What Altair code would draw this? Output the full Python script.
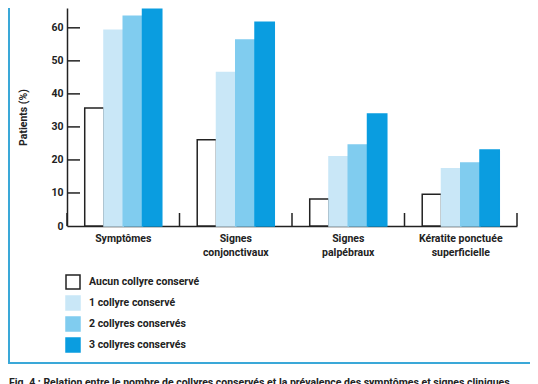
import altair as alt
import pandas as pd

categories = ["Symptômes", "Signes|conjonctivaux", "Signes|palpébraux", "Kératite ponctuée|superficielle"]
series = ["Aucun collyre conservé", "1 collyre conservé", "2 collyres conservés", "3 collyres conservés"]
aucun = [35.7, 26.1, 8.2, 9.6]
un = [59.3, 46.5, 21.0, 17.3]
deux = [63.5, 56.3, 24.5, 19.1]
trois = [65.6, 61.7, 33.9, 23.0]
y_ticks = [10, 20, 30, 40, 50, 60]
caption = "Fig. 4 : Relation entre le nombre de collyres conservés et la prévalence des symptômes et signes cliniques"

rows = []
for s, vals in zip(series, [aucun, un, deux, trois]):
    for c, v in zip(categories, vals):
        rows.append({"cat": c, "serie": s, "val": v})
df = pd.DataFrame(rows)

FONT = "Roboto"
fills = ["#ffffff", "#c9e7f7", "#80ccef", "#0a9de0"]
strokes = ["#222222", "#c9e7f7", "#80ccef", "#0a9de0"]

xscale = alt.Scale(domain=categories, paddingInner=0, paddingOuter=0)
yscale = alt.Scale(domain=[0, 66], nice=False)

x_axis = alt.Axis(title=None, labelAngle=0, ticks=False, grid=False,
                  labelExpr="split(datum.label, '|')",
                  labelFont=FONT, labelFontWeight="bold", labelFontSize=10.5,
                  labelColor="#222", labelPadding=7, labelLineHeight=14,
                  domainColor="#222", domainWidth=1.5)
y_axis = alt.Axis(title="Patients (%)", values=[0] + y_ticks, ticks=False, grid=False,
                  labelOverlap=False, labelFlush=False, labelBound=False,
                  labelFont=FONT, labelFontWeight="bold", labelFontSize=10.5,
                  labelColor="#222", labelPadding=4,
                  titleFont=FONT, titleFontWeight="bold", titleFontSize=10.5,
                  titleColor="#222", titlePadding=22,
                  domainColor="#222", domainWidth=1.5)

bars = alt.Chart(df).mark_bar(strokeWidth=1.5).encode(
    x=alt.X("cat:N", sort=categories, scale=xscale, axis=x_axis),
    xOffset=alt.XOffset("serie:N", sort=series,
                        scale=alt.Scale(domain=series, paddingInner=0, paddingOuter=0.92)),
    y=alt.Y("val:Q", scale=yscale, axis=y_axis),
    fill=alt.Fill("serie:N", sort=series, scale=alt.Scale(domain=series, range=fills),
                  legend=alt.Legend(title=None, orient="none", legendX=-2, legendY=266)),
    stroke=alt.Stroke("serie:N", sort=series, scale=alt.Scale(domain=series, range=strokes),
                      legend=alt.Legend(title=None, orient="none", legendX=-2, legendY=266)),
)

ytick_df = pd.DataFrame({"t": y_ticks})
yticks = alt.Chart(ytick_df).mark_rule(color="#222", strokeWidth=1.5).encode(
    y=alt.Y("t:Q", scale=yscale, axis=y_axis),
    x=alt.value(0), x2=alt.value(13),
)

xtick_df = pd.DataFrame({"cat": categories})
xticks0 = alt.Chart(xtick_df).mark_rule(color="#222", strokeWidth=1.5).encode(
    x=alt.X("cat:N", sort=categories, scale=xscale, bandPosition=0, axis=x_axis),
    y=alt.value(205), y2=alt.value(218),
)
xticks1 = alt.Chart(pd.DataFrame({"cat": [categories[-1]]})).mark_rule(color="#222", strokeWidth=1.5).encode(
    x=alt.X("cat:N", sort=categories, scale=xscale, bandPosition=1, axis=x_axis),
    y=alt.value(205), y2=alt.value(218),
)

frame = alt.Chart(pd.DataFrame({"a": [0]})).mark_rect(
    filled=False, stroke="#3aa8d8", strokeWidth=2
).encode(x=alt.value(-58), x2=alt.value(466), y=alt.value(-20), y2=alt.value(355))

cap = alt.Chart(pd.DataFrame({"txt": [caption]})).mark_text(
    align="left", baseline="top", font=FONT, fontSize=10.5, fontWeight="bold", color="#222"
).encode(text="txt:N", x=alt.value(-58), y=alt.value(370))

chart = alt.layer(frame, bars, yticks, xticks0, xticks1, cap).resolve_scale(
    x="shared", y="shared"
).properties(
    width=450, height=218,
    autosize=alt.AutoSizeParams(type="none"),
    padding={"left": 59, "top": 0, "right": 13, "bottom": 170},
).configure_view(stroke=None).configure_legend(
    symbolType="square", symbolSize=196, symbolStrokeWidth=1.5,
    labelFont=FONT, labelFontWeight="bold", labelFontSize=10.5, labelColor="#222",
    rowPadding=1, padding=0, labelOffset=8
)

chart.save("out.html", embed_options={"renderer": "svg", "actions": False})
